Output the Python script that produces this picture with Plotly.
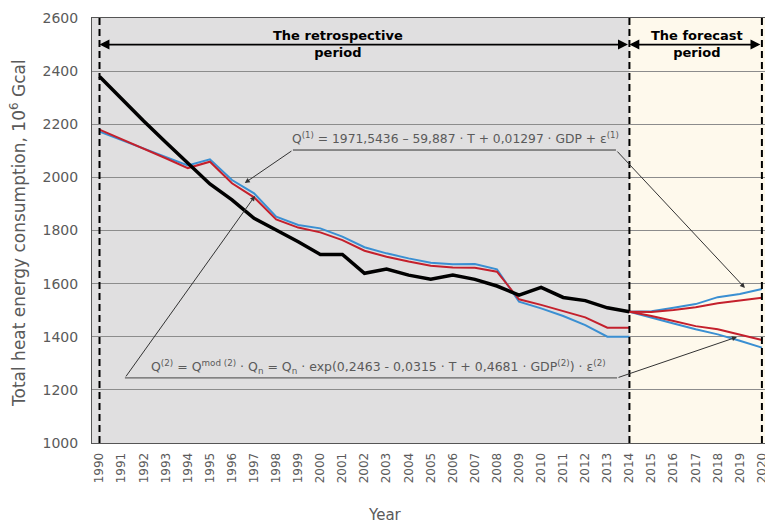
import plotly.graph_objects as go

years_retro = list(range(1990, 2015))
years_fc = list(range(2014, 2021))
tick_years = list(range(1990, 2021))
tick_labels = [str(y) for y in tick_years]

actual = [2380, 2295, 2212, 2132, 2052, 1975, 1915, 1846, 1802, 1758, 1710, 1710,
          1639, 1655, 1632, 1617, 1632, 1616, 1591, 1557, 1586, 1548, 1536, 1509, 1494]
model1_retro = [2172, 2140, 2108, 2075, 2045, 2068, 1990, 1940, 1852, 1821, 1808, 1777,
                1737, 1714, 1695, 1679, 1673, 1674, 1654, 1532, 1507, 1478, 1444, 1400, 1400]
model2_retro = [2180, 2145, 2110, 2072, 2035, 2059, 1978, 1925, 1842, 1811, 1793, 1764,
                1724, 1701, 1683, 1667, 1661, 1660, 1645, 1541, 1520, 1497, 1473, 1434, 1434]
fc_blue_up = [1494, 1496, 1509, 1523, 1549, 1561, 1580]
fc_red_up = [1494, 1493, 1501, 1511, 1526, 1536, 1547]
fc_red_low = [1494, 1478, 1459, 1440, 1428, 1407, 1388]
fc_blue_low = [1494, 1473, 1450, 1428, 1409, 1385, 1359]

BLUE = "#3a8fd2"
RED = "#c4202c"
GRAY_TXT = "#5a5a5a"
FONT = "DejaVu Sans"

X0, X1 = 1989.66, 2020.14
SPLIT = 2014

fig = go.Figure()
fig.add_trace(go.Scatter(x=years_retro, y=model1_retro, mode="lines",
                         line=dict(color=BLUE, width=2), name="Model 1"))
fig.add_trace(go.Scatter(x=years_retro, y=model2_retro, mode="lines",
                         line=dict(color=RED, width=2), name="Model 2"))
fig.add_trace(go.Scatter(x=years_fc, y=fc_blue_up, mode="lines",
                         line=dict(color=BLUE, width=2), name="Forecast 1 (up)"))
fig.add_trace(go.Scatter(x=years_fc, y=fc_blue_low, mode="lines",
                         line=dict(color=BLUE, width=2), name="Forecast 1 (low)"))
fig.add_trace(go.Scatter(x=years_fc, y=fc_red_up, mode="lines",
                         line=dict(color=RED, width=2), name="Forecast 2 (up)"))
fig.add_trace(go.Scatter(x=years_fc, y=fc_red_low, mode="lines",
                         line=dict(color=RED, width=2), name="Forecast 2 (low)"))
fig.add_trace(go.Scatter(x=years_retro, y=actual, mode="lines",
                         line=dict(color="black", width=3.5), name="Actual"))

shapes = [
    dict(type="rect", xref="x", yref="paper", x0=X0, x1=SPLIT, y0=0, y1=1,
         fillcolor="#e0dfe0", line=dict(width=0), layer="below"),
    dict(type="rect", xref="x", yref="paper", x0=SPLIT, x1=X1, y0=0, y1=1,
         fillcolor="#fef9ec", line=dict(width=0), layer="below"),
]
for xv in (1990, 2014, 2020):
    shapes.append(dict(type="line", xref="x", yref="paper", x0=xv, x1=xv, y0=0, y1=1,
                       line=dict(color="black", width=2, dash="7px,4px")))
# underlines of the formula call-outs
shapes.append(dict(type="line", xref="x", yref="y", x0=1998.76, x1=2013.39, y0=2103, y1=2103,
                   line=dict(color="#333333", width=1)))
shapes.append(dict(type="line", xref="x", yref="y", x0=1991.15, x1=2013.44, y0=1245, y1=1245,
                   line=dict(color="#444444", width=1)))

annotations = []
# double-headed period arrows
annotations.append(dict(x=1990, y=2500, ax=2014, ay=2500, xref="x", yref="y", axref="x", ayref="y",
                        text="", showarrow=True, arrowhead=2, arrowside="end+start",
                        arrowsize=1.1, arrowwidth=1.8, arrowcolor="black"))
annotations.append(dict(x=2014, y=2500, ax=2020, ay=2500, xref="x", yref="y", axref="x", ayref="y",
                        text="", showarrow=True, arrowhead=2, arrowside="end+start",
                        arrowsize=1.1, arrowwidth=1.8, arrowcolor="black"))
annotations.append(dict(x=2000.8, y=2502, xref="x", yref="y", showarrow=False,
                        text="<b>The retrospective<br>period</b>",
                        font=dict(family=FONT, size=13, color="black")))
annotations.append(dict(x=2017.05, y=2502, xref="x", yref="y", showarrow=False,
                        text="<b>The forecast<br>period</b>",
                        font=dict(family=FONT, size=13, color="black")))
# formula 1
annotations.append(dict(x=2006.14, y=2150, xref="x", yref="y", showarrow=False,
                        text="Q<sup>(1)</sup> = 1971,5436 – 59,887 · T + 0,01297 · GDP + ε<sup>(1)</sup>",
                        font=dict(family=FONT, size=12.3, color=GRAY_TXT)))
annotations.append(dict(x=1996.58, y=1979, ax=1998.76, ay=2103, xref="x", yref="y", axref="x", ayref="y",
                        text="", showarrow=True, arrowhead=2, arrowsize=1, arrowwidth=1, arrowcolor="#333333"))
annotations.append(dict(x=2019.23, y=1584, ax=2013.39, ay=2103, xref="x", yref="y", axref="x", ayref="y",
                        text="", showarrow=True, arrowhead=2, arrowsize=1, arrowwidth=1, arrowcolor="#333333"))
# formula 2
annotations.append(dict(x=2002.62, y=1288, xref="x", yref="y", showarrow=False,
                        text=("Q<sup>(2)</sup> = Q<sup>mod (2)</sup> · Q<sub>n</sub> = Q<sub>n</sub> · "
                              "exp(0,2463 - 0,0315 · T + 0,4681 · GDP<sup>(2)</sup>) · ε<sup>(2)</sup>"),
                        font=dict(family=FONT, size=12.5, color=GRAY_TXT)))
annotations.append(dict(x=1997.04, y=1930, ax=1991.15, ay=1245, xref="x", yref="y", axref="x", ayref="y",
                        text="", showarrow=True, arrowhead=2, arrowsize=1, arrowwidth=1, arrowcolor="#333333"))
annotations.append(dict(x=2018.87, y=1399, ax=2013.44, ay=1245, xref="x", yref="y", axref="x", ayref="y",
                        text="", showarrow=True, arrowhead=2, arrowsize=1, arrowwidth=1, arrowcolor="#333333"))
# axis titles (positions given in page pixels, converted below)
annotations.append(dict(x=18, y=233, xref="paper", yref="paper", showarrow=False,
                        text="Total heat energy consumption, 10<sup>6</sup> Gcal", textangle=-90,
                        font=dict(family=FONT, size=17, color=GRAY_TXT)))
annotations.append(dict(x=385, y=515, xref="paper", yref="paper", showarrow=False,
                        text="Year", font=dict(family=FONT, size=15, color=GRAY_TXT)))

# plot area at page pixels left 92, top 18, right 765, bottom 443 (body margin removed)
W, H = 765, 522
PL, PT, PR, PB = 92, 18, 765, 443
pw, ph = PR - PL, PB - PT
for a in annotations[-2:]:
    a["x"] = (a["x"] - PL) / pw
    a["y"] = (PB - a["y"]) / ph
    a["xanchor"] = "center"
    a["yanchor"] = "middle"

fig.update_layout(
    width=W, height=H,
    margin=dict(l=PL, r=W - PR, t=PT, b=H - PB, autoexpand=False),
    paper_bgcolor="white", plot_bgcolor="#e0dfe0",
    showlegend=False,
    shapes=shapes, annotations=annotations,
    xaxis=dict(range=[X0, X1], tickmode="array", tickvals=tick_years, ticktext=tick_labels,
               tickangle=-90, tickfont=dict(family=FONT, size=12, color=GRAY_TXT),
               showgrid=False, zeroline=False, showline=True, linecolor="#555555", linewidth=1,
               mirror=True, ticks="", automargin=False, ticklabelstandoff=4,
               ticklabeloverflow="allow"),
    yaxis=dict(range=[1000, 2600], tickmode="array", tickvals=list(range(1000, 2601, 200)),
               tickfont=dict(family=FONT, size=14, color=GRAY_TXT),
               showgrid=True, gridcolor="#8c8c8c", gridwidth=1, zeroline=False,
               showline=True, linecolor="#555555", linewidth=1, mirror=True, ticks="",
               automargin=False, ticklabelstandoff=10),
)

fig.write_html(
    "out.html",
    config={"displayModeBar": False},
    post_script="document.body.style.margin='0';document.body.style.overflow='hidden';",
)
